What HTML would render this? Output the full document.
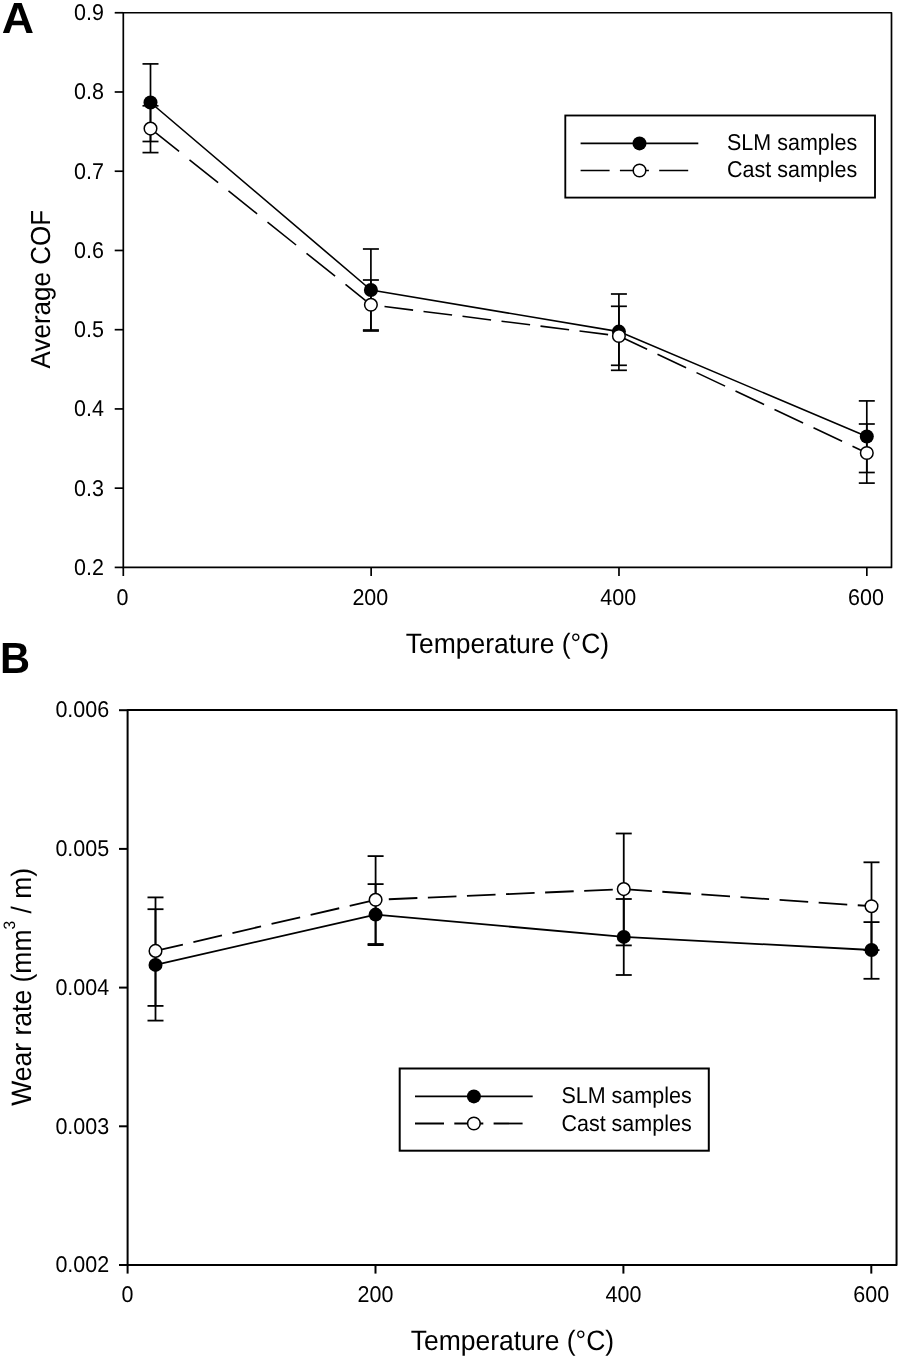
<!DOCTYPE html>
<html><head><meta charset="utf-8"><style>
html,body{margin:0;padding:0;background:#fff;}
body{width:901px;height:1360px;overflow:hidden;}
svg{display:block;filter:grayscale(1);}
text{font-family:"Liberation Sans", sans-serif;fill:#000;stroke:none;text-rendering:geometricPrecision;}
</style></head><body>
<svg width="901" height="1360" viewBox="0 0 901 1360" stroke="#000" fill="none">
<g>
<rect x="0" y="0" width="901" height="1360" fill="#fff" stroke="none"/>
<rect x="123.3" y="12.75" width="768.2" height="554.65" fill="none" stroke-width="1.7" stroke-linejoin="round"/>
<line x1="114.70" y1="567.40" x2="123.30" y2="567.40" stroke-width="1.7" stroke-linecap="butt"/>
<text transform="translate(104.00 574.80) scale(1 1.06)" font-size="21.5" text-anchor="end">0.2</text>
<line x1="114.70" y1="488.16" x2="123.30" y2="488.16" stroke-width="1.7" stroke-linecap="butt"/>
<text transform="translate(104.00 495.56) scale(1 1.06)" font-size="21.5" text-anchor="end">0.3</text>
<line x1="114.70" y1="408.93" x2="123.30" y2="408.93" stroke-width="1.7" stroke-linecap="butt"/>
<text transform="translate(104.00 416.33) scale(1 1.06)" font-size="21.5" text-anchor="end">0.4</text>
<line x1="114.70" y1="329.69" x2="123.30" y2="329.69" stroke-width="1.7" stroke-linecap="butt"/>
<text transform="translate(104.00 337.09) scale(1 1.06)" font-size="21.5" text-anchor="end">0.5</text>
<line x1="114.70" y1="250.46" x2="123.30" y2="250.46" stroke-width="1.7" stroke-linecap="butt"/>
<text transform="translate(104.00 257.86) scale(1 1.06)" font-size="21.5" text-anchor="end">0.6</text>
<line x1="114.70" y1="171.22" x2="123.30" y2="171.22" stroke-width="1.7" stroke-linecap="butt"/>
<text transform="translate(104.00 178.62) scale(1 1.06)" font-size="21.5" text-anchor="end">0.7</text>
<line x1="114.70" y1="91.99" x2="123.30" y2="91.99" stroke-width="1.7" stroke-linecap="butt"/>
<text transform="translate(104.00 99.39) scale(1 1.06)" font-size="21.5" text-anchor="end">0.8</text>
<line x1="114.70" y1="12.75" x2="123.30" y2="12.75" stroke-width="1.7" stroke-linecap="butt"/>
<text transform="translate(104.00 20.15) scale(1 1.06)" font-size="21.5" text-anchor="end">0.9</text>
<line x1="123.30" y1="567.40" x2="123.30" y2="576.00" stroke-width="1.7" stroke-linecap="butt"/>
<text transform="translate(122.50 605.20) scale(1 1.06)" font-size="21.5" text-anchor="middle">0</text>
<line x1="371.14" y1="567.40" x2="371.14" y2="576.00" stroke-width="1.7" stroke-linecap="butt"/>
<text transform="translate(370.34 605.20) scale(1 1.06)" font-size="21.5" text-anchor="middle">200</text>
<line x1="618.98" y1="567.40" x2="618.98" y2="576.00" stroke-width="1.7" stroke-linecap="butt"/>
<text transform="translate(618.18 605.20) scale(1 1.06)" font-size="21.5" text-anchor="middle">400</text>
<line x1="866.82" y1="567.40" x2="866.82" y2="576.00" stroke-width="1.7" stroke-linecap="butt"/>
<text transform="translate(866.02 605.20) scale(1 1.06)" font-size="21.5" text-anchor="middle">600</text>
<text transform="translate(507.40 652.70) scale(1 1.06)" font-size="26.5" text-anchor="middle">Temperature (°C)</text>
<text transform="translate(49.60 289.20) rotate(-90) scale(1 1.06)" font-size="26" text-anchor="middle">Average COF</text>
<text transform="translate(1.7 33.0) scale(1.09 1.06)" font-size="41" font-weight="bold">A</text>
<polyline points="150.50,102.50 370.90,290.00 618.90,331.60 866.80,436.50" fill="none" stroke-width="1.6" stroke-linejoin="round"/>
<path d="M150.50,128.60 L179.10,151.46 M189.50,159.78 L218.10,182.64 M228.50,190.96 L257.10,213.82 M267.50,222.14 L296.10,245.00 M306.50,253.32 L335.10,276.18 M345.50,284.49 L370.90,304.80 L374.10,305.20 M384.50,306.51 L413.10,310.11 M423.50,311.42 L452.10,315.02 M462.50,316.32 L491.10,319.92 M501.50,321.23 L530.10,324.83 M540.50,326.14 L569.10,329.73 M579.50,331.04 L608.10,334.64 M618.50,335.95 L618.90,336.00 L647.10,349.31 M657.50,354.22 L686.10,367.72 M696.50,372.62 L725.10,386.12 M735.50,391.03 L764.10,404.53 M774.50,409.44 L803.10,422.94 M813.50,427.84 L842.10,441.34 M852.50,446.25 L866.80,453.00" fill="none" stroke-width="1.6" stroke-linejoin="round"/>
<line x1="150.50" y1="63.90" x2="150.50" y2="141.50" stroke-width="1.7" stroke-linecap="butt"/>
<line x1="142.50" y1="63.90" x2="158.50" y2="63.90" stroke-width="1.7" stroke-linecap="butt"/>
<line x1="142.50" y1="141.50" x2="158.50" y2="141.50" stroke-width="1.7" stroke-linecap="butt"/>
<line x1="370.90" y1="249.00" x2="370.90" y2="331.00" stroke-width="1.7" stroke-linecap="butt"/>
<line x1="362.90" y1="249.00" x2="378.90" y2="249.00" stroke-width="1.7" stroke-linecap="butt"/>
<line x1="362.90" y1="331.00" x2="378.90" y2="331.00" stroke-width="1.7" stroke-linecap="butt"/>
<line x1="618.90" y1="294.00" x2="618.90" y2="370.30" stroke-width="1.7" stroke-linecap="butt"/>
<line x1="610.90" y1="294.00" x2="626.90" y2="294.00" stroke-width="1.7" stroke-linecap="butt"/>
<line x1="610.90" y1="370.30" x2="626.90" y2="370.30" stroke-width="1.7" stroke-linecap="butt"/>
<line x1="866.80" y1="400.90" x2="866.80" y2="472.50" stroke-width="1.7" stroke-linecap="butt"/>
<line x1="858.80" y1="400.90" x2="874.80" y2="400.90" stroke-width="1.7" stroke-linecap="butt"/>
<line x1="858.80" y1="472.50" x2="874.80" y2="472.50" stroke-width="1.7" stroke-linecap="butt"/>
<line x1="150.50" y1="105.80" x2="150.50" y2="152.60" stroke-width="1.7" stroke-linecap="butt"/>
<line x1="142.50" y1="105.80" x2="158.50" y2="105.80" stroke-width="1.7" stroke-linecap="butt"/>
<line x1="142.50" y1="152.60" x2="158.50" y2="152.60" stroke-width="1.7" stroke-linecap="butt"/>
<line x1="370.90" y1="280.00" x2="370.90" y2="330.00" stroke-width="1.7" stroke-linecap="butt"/>
<line x1="362.90" y1="280.00" x2="378.90" y2="280.00" stroke-width="1.7" stroke-linecap="butt"/>
<line x1="362.90" y1="330.00" x2="378.90" y2="330.00" stroke-width="1.7" stroke-linecap="butt"/>
<line x1="618.90" y1="306.30" x2="618.90" y2="365.30" stroke-width="1.7" stroke-linecap="butt"/>
<line x1="610.90" y1="306.30" x2="626.90" y2="306.30" stroke-width="1.7" stroke-linecap="butt"/>
<line x1="610.90" y1="365.30" x2="626.90" y2="365.30" stroke-width="1.7" stroke-linecap="butt"/>
<line x1="866.80" y1="424.00" x2="866.80" y2="483.10" stroke-width="1.7" stroke-linecap="butt"/>
<line x1="858.80" y1="424.00" x2="874.80" y2="424.00" stroke-width="1.7" stroke-linecap="butt"/>
<line x1="858.80" y1="483.10" x2="874.80" y2="483.10" stroke-width="1.7" stroke-linecap="butt"/>
<circle cx="150.50" cy="102.50" r="7.0" fill="#000" stroke="none"/>
<circle cx="370.90" cy="290.00" r="7.0" fill="#000" stroke="none"/>
<circle cx="618.90" cy="331.60" r="7.0" fill="#000" stroke="none"/>
<circle cx="866.80" cy="436.50" r="7.0" fill="#000" stroke="none"/>
<circle cx="150.50" cy="128.60" r="6.3" fill="#fff" stroke-width="1.5"/>
<circle cx="370.90" cy="304.80" r="6.3" fill="#fff" stroke-width="1.5"/>
<circle cx="618.90" cy="336.00" r="6.3" fill="#fff" stroke-width="1.5"/>
<circle cx="866.80" cy="453.00" r="6.3" fill="#fff" stroke-width="1.5"/>
<rect x="565.3" y="115.5" width="309.70000000000005" height="82.1" fill="#fff" stroke-width="1.85"/>
<line x1="580.60" y1="143.40" x2="698.30" y2="143.40" stroke-width="1.6" stroke-linecap="butt"/>
<line x1="580.60" y1="170.50" x2="698.30" y2="170.50" stroke-width="1.6" stroke-dasharray="29.0 10.3"/>
<circle cx="639.50" cy="143.40" r="7.0" fill="#000" stroke="none"/>
<circle cx="639.50" cy="170.50" r="6.3" fill="#fff" stroke-width="1.5"/>
<text transform="translate(727.00 150.30) scale(1 1.06)" font-size="21.5" text-anchor="start">SLM samples</text>
<text transform="translate(727.00 177.30) scale(1 1.06)" font-size="21.5" text-anchor="start">Cast samples</text>
<rect x="127.6" y="710.1" width="768.9499999999999" height="554.9" fill="none" stroke-width="2.0" stroke-linejoin="round"/>
<line x1="119.00" y1="1265.00" x2="127.60" y2="1265.00" stroke-width="2.0" stroke-linecap="butt"/>
<text transform="translate(109.20 1272.20) scale(1 1.06)" font-size="21.5" text-anchor="end">0.002</text>
<line x1="119.00" y1="1126.30" x2="127.60" y2="1126.30" stroke-width="2.0" stroke-linecap="butt"/>
<text transform="translate(109.20 1133.50) scale(1 1.06)" font-size="21.5" text-anchor="end">0.003</text>
<line x1="119.00" y1="987.60" x2="127.60" y2="987.60" stroke-width="2.0" stroke-linecap="butt"/>
<text transform="translate(109.20 994.80) scale(1 1.06)" font-size="21.5" text-anchor="end">0.004</text>
<line x1="119.00" y1="848.90" x2="127.60" y2="848.90" stroke-width="2.0" stroke-linecap="butt"/>
<text transform="translate(109.20 856.10) scale(1 1.06)" font-size="21.5" text-anchor="end">0.005</text>
<line x1="119.00" y1="710.20" x2="127.60" y2="710.20" stroke-width="2.0" stroke-linecap="butt"/>
<text transform="translate(109.20 717.40) scale(1 1.06)" font-size="21.5" text-anchor="end">0.006</text>
<line x1="127.60" y1="1265.00" x2="127.60" y2="1273.60" stroke-width="2.0" stroke-linecap="butt"/>
<text transform="translate(127.60 1302.40) scale(1 1.06)" font-size="21.5" text-anchor="middle">0</text>
<line x1="375.50" y1="1265.00" x2="375.50" y2="1273.60" stroke-width="2.0" stroke-linecap="butt"/>
<text transform="translate(375.50 1302.40) scale(1 1.06)" font-size="21.5" text-anchor="middle">200</text>
<line x1="623.40" y1="1265.00" x2="623.40" y2="1273.60" stroke-width="2.0" stroke-linecap="butt"/>
<text transform="translate(623.40 1302.40) scale(1 1.06)" font-size="21.5" text-anchor="middle">400</text>
<line x1="871.30" y1="1265.00" x2="871.30" y2="1273.60" stroke-width="2.0" stroke-linecap="butt"/>
<text transform="translate(871.30 1302.40) scale(1 1.06)" font-size="21.5" text-anchor="middle">600</text>
<text transform="translate(512.40 1350.10) scale(1 1.06)" font-size="26.5" text-anchor="middle">Temperature (°C)</text>
<text transform="translate(30.50 986.80) rotate(-90) scale(1 1.06)" font-size="26.5" text-anchor="middle">Wear rate (mm<tspan dy="-15" font-size="15.5">3</tspan><tspan dy="15"> / m)</tspan></text>
<text transform="translate(0.1 672.8) scale(1.015 1.065)" font-size="41" font-weight="bold">B</text>
<polyline points="155.50,964.90 375.60,914.60 623.75,936.90 871.50,950.00" fill="none" stroke-width="1.8" stroke-linejoin="round"/>
<path d="M155.50,950.90 L182.90,944.54 M193.38,942.11 L221.98,935.47 M232.46,933.03 L261.06,926.39 M271.54,923.96 L300.14,917.32 M310.62,914.89 L339.22,908.25 M349.70,905.81 L375.60,899.80 L378.30,899.68 M388.78,899.23 L417.38,898.00 M427.86,897.55 L456.46,896.31 M466.94,895.86 L495.54,894.63 M506.02,894.18 L534.62,892.94 M545.10,892.49 L573.70,891.26 M584.18,890.81 L612.78,889.57 M623.26,889.12 L623.75,889.10 L651.86,891.04 M662.34,891.76 L690.94,893.74 M701.42,894.46 L730.02,896.43 M740.50,897.16 L769.10,899.13 M779.58,899.86 L808.18,901.83 M818.66,902.55 L847.26,904.53 M857.74,905.25 L871.50,906.20" fill="none" stroke-width="1.8" stroke-linejoin="round"/>
<line x1="155.50" y1="909.20" x2="155.50" y2="1020.60" stroke-width="1.8" stroke-linecap="butt"/>
<line x1="147.50" y1="909.20" x2="163.50" y2="909.20" stroke-width="1.8" stroke-linecap="butt"/>
<line x1="147.50" y1="1020.60" x2="163.50" y2="1020.60" stroke-width="1.8" stroke-linecap="butt"/>
<line x1="375.60" y1="884.10" x2="375.60" y2="945.10" stroke-width="1.8" stroke-linecap="butt"/>
<line x1="367.60" y1="884.10" x2="383.60" y2="884.10" stroke-width="1.8" stroke-linecap="butt"/>
<line x1="367.60" y1="945.10" x2="383.60" y2="945.10" stroke-width="1.8" stroke-linecap="butt"/>
<line x1="623.75" y1="899.00" x2="623.75" y2="975.00" stroke-width="1.8" stroke-linecap="butt"/>
<line x1="615.75" y1="899.00" x2="631.75" y2="899.00" stroke-width="1.8" stroke-linecap="butt"/>
<line x1="615.75" y1="975.00" x2="631.75" y2="975.00" stroke-width="1.8" stroke-linecap="butt"/>
<line x1="871.50" y1="922.10" x2="871.50" y2="978.80" stroke-width="1.8" stroke-linecap="butt"/>
<line x1="863.50" y1="922.10" x2="879.50" y2="922.10" stroke-width="1.8" stroke-linecap="butt"/>
<line x1="863.50" y1="978.80" x2="879.50" y2="978.80" stroke-width="1.8" stroke-linecap="butt"/>
<line x1="155.50" y1="897.40" x2="155.50" y2="1005.90" stroke-width="1.8" stroke-linecap="butt"/>
<line x1="147.50" y1="897.40" x2="163.50" y2="897.40" stroke-width="1.8" stroke-linecap="butt"/>
<line x1="147.50" y1="1005.90" x2="163.50" y2="1005.90" stroke-width="1.8" stroke-linecap="butt"/>
<line x1="375.60" y1="856.10" x2="375.60" y2="944.00" stroke-width="1.8" stroke-linecap="butt"/>
<line x1="367.60" y1="856.10" x2="383.60" y2="856.10" stroke-width="1.8" stroke-linecap="butt"/>
<line x1="367.60" y1="944.00" x2="383.60" y2="944.00" stroke-width="1.8" stroke-linecap="butt"/>
<line x1="623.75" y1="833.50" x2="623.75" y2="945.40" stroke-width="1.8" stroke-linecap="butt"/>
<line x1="615.75" y1="833.50" x2="631.75" y2="833.50" stroke-width="1.8" stroke-linecap="butt"/>
<line x1="615.75" y1="945.40" x2="631.75" y2="945.40" stroke-width="1.8" stroke-linecap="butt"/>
<line x1="871.50" y1="862.30" x2="871.50" y2="950.10" stroke-width="1.8" stroke-linecap="butt"/>
<line x1="863.50" y1="862.30" x2="879.50" y2="862.30" stroke-width="1.8" stroke-linecap="butt"/>
<line x1="863.50" y1="950.10" x2="879.50" y2="950.10" stroke-width="1.8" stroke-linecap="butt"/>
<circle cx="155.50" cy="964.90" r="7.0" fill="#000" stroke="none"/>
<circle cx="375.60" cy="914.60" r="7.0" fill="#000" stroke="none"/>
<circle cx="623.75" cy="936.90" r="7.0" fill="#000" stroke="none"/>
<circle cx="871.50" cy="950.00" r="7.0" fill="#000" stroke="none"/>
<circle cx="155.50" cy="950.90" r="6.3" fill="#fff" stroke-width="1.5"/>
<circle cx="375.60" cy="899.80" r="6.3" fill="#fff" stroke-width="1.5"/>
<circle cx="623.75" cy="889.10" r="6.3" fill="#fff" stroke-width="1.5"/>
<circle cx="871.50" cy="906.20" r="6.3" fill="#fff" stroke-width="1.5"/>
<rect x="399.7" y="1068.5" width="309.09999999999997" height="82.20000000000005" fill="#fff" stroke-width="2.0"/>
<line x1="415.00" y1="1096.40" x2="532.70" y2="1096.40" stroke-width="1.8" stroke-linecap="butt"/>
<line x1="415.00" y1="1123.50" x2="532.70" y2="1123.50" stroke-width="1.8" stroke-dasharray="29.0 10.3"/>
<circle cx="473.90" cy="1096.40" r="7.0" fill="#000" stroke="none"/>
<circle cx="473.90" cy="1123.50" r="6.3" fill="#fff" stroke-width="1.5"/>
<text transform="translate(561.40 1103.30) scale(1 1.06)" font-size="21.5" text-anchor="start">SLM samples</text>
<text transform="translate(561.40 1130.80) scale(1 1.06)" font-size="21.5" text-anchor="start">Cast samples</text>
</g>
</svg>
</body></html>
